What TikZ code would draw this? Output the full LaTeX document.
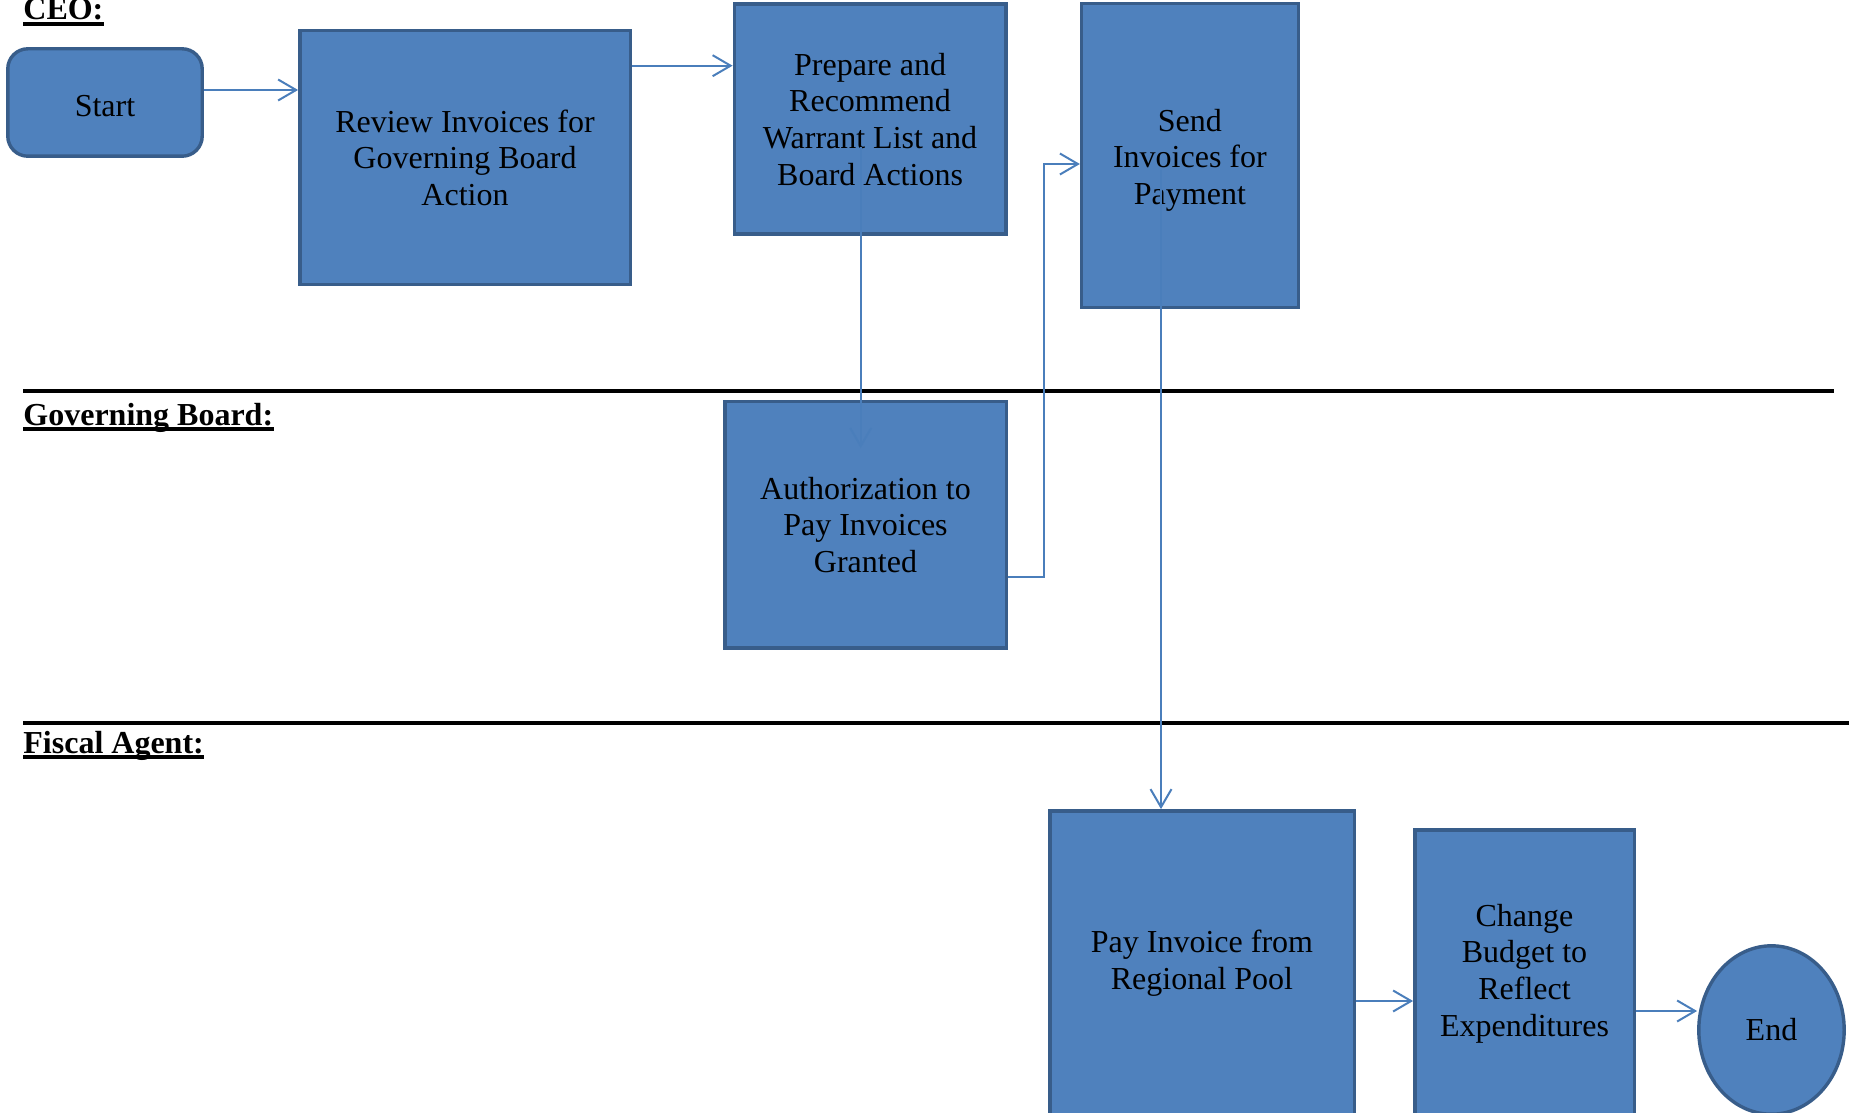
\documentclass[tikz,border=0pt]{standalone}
\usepackage{fontspec}
\setmainfont{Liberation Serif}
\usetikzlibrary{arrows.meta,shapes.geometric}
\definecolor{boxfill}{HTML}{4F81BD}
\definecolor{boxline}{HTML}{385D8A}
\definecolor{conncol}{HTML}{4A7EBB}
\begin{document}
\begin{tikzpicture}[x=0.5pt,y=-0.5pt,
  box/.style={draw=boxline, fill=boxfill, line width=1.7pt, inner sep=0pt, align=center,
    font=\fontsize{16}{18.3}\selectfont},
  boxtext/.style={inner sep=0pt, align=center, font=\fontsize{16}{18.3}\selectfont},
  conn/.style={draw=conncol, line width=1pt, -{Straight Barb[length=9pt,width=10.5pt]}},
  lab/.style={inner sep=0pt, font=\fontsize{16}{18}\selectfont\bfseries},
  uline/.style={line width=1.6pt},
  lane/.style={line width=2pt}]
\clip (0,0) rectangle (1849,1113);
% lane labels
\node[lab, anchor=base west] (ceo) at (23,20) {CEO:};
\draw[uline] ([yshift=-2pt]ceo.base west) -- ([yshift=-2pt]ceo.base east);
\node[lab, anchor=base west] (gb) at (23,425) {Governing Board:};
\draw[uline] ([yshift=-2pt]gb.base west) -- ([yshift=-2pt]gb.base east);
\node[lab, anchor=base west] (fa) at (23,753) {Fiscal Agent:};
\draw[uline] ([yshift=-2pt]fa.base west) -- ([yshift=-2pt]fa.base east);
% lane separators
\draw[lane] (23,391) -- (1834,391);
\draw[lane] (23,723) -- (1849,723);
% nodes
\node[box, rounded corners=10pt, minimum width=97.2pt, minimum height=53.7pt] (start) at (105,102.5) {};
\node[boxtext] (starttxt) at ([yshift=-1.7pt]start.center) {Start};
\node[box, minimum width=165.2pt, minimum height=126.7pt] (review) at (465,157.5) {Review Invoices for\\Governing Board\\Action};
\node[box, minimum width=135.8pt, minimum height=115pt] (prep) at (870.1,119.2) {Prepare and\\Recommend\\Warrant List and\\Board Actions};
\node[box, minimum width=108.3pt, minimum height=151.8pt] (send) at (1189.9,155.4) {};
\node[boxtext] (sendtxt) at ([yshift=-2.3pt]send.center) {Send\\Invoices for\\Payment};
\node[box, minimum width=140.7pt, minimum height=123.2pt] (auth) at (865.5,524.7) {Authorization to\\Pay Invoices\\Granted};
\node[box, minimum width=152.2pt, minimum height=152.6pt] (pay) at (1202,963.4) {Pay Invoice from\\Regional Pool};
\node[box, minimum width=109.7pt, minimum height=143.6pt] (change) at (1524.5,973.4) {Change\\Budget to\\Reflect\\Expenditures};
\node[box, ellipse, minimum width=72.7pt, minimum height=84.2pt] (endn) at (1771.5,1030) {End};
% helper coordinates
\coordinate (sr) at (0,90);
\coordinate (rp) at (0,65.7);
\coordinate (pa1) at (860.7,147);
\coordinate (pa2) at (860.7,448);
\coordinate (as) at (0,576.7);
\coordinate (jog) at (1043.8,0);
\coordinate (sin) at (0,164);
\coordinate (sp) at (1161,170);
\coordinate (pc) at (0,1001);
\coordinate (ce) at (0,1011);
% connectors
\draw[conn] (start.east |- sr) -- (review.west |- sr);
\draw[conn] (review.east |- rp) -- (prep.west |- rp);
\draw[conn] (pa1) -- (pa2);
\draw[conn] (auth.east |- as) -- (jog |- as) |- (send.west |- sin);
\draw[conn] (sp) -- (sp |- pay.north);
\draw[conn] (pay.east |- pc) -- (change.west |- pc);
\draw[conn] (change.east |- ce) -- (endn.west |- ce);
\end{tikzpicture}
\end{document}
